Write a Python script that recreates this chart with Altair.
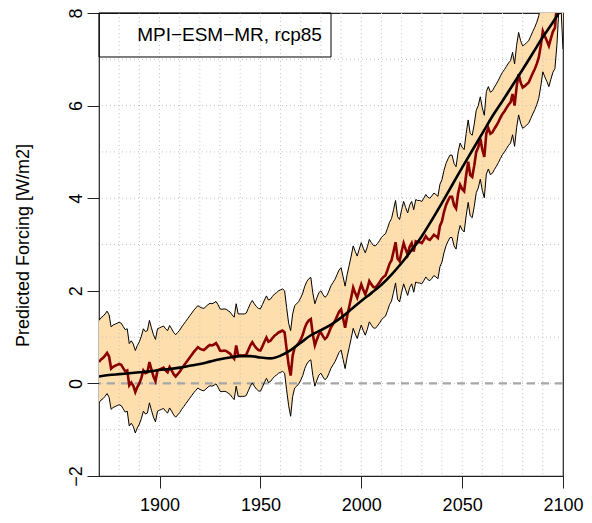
import altair as alt
import pandas as pd

# ---------------- data ----------------
years = list(range(1870, 2101))

red = [
    0.46, 0.52, 0.55, 0.60, 0.66, 0.58, 0.32, 0.36, 0.38, 0.40,
    0.42, 0.40, 0.33, 0.26, 0.28, -0.04, 0.02, -0.05, -0.19, -0.08,
    0.00, 0.12, 0.28, 0.22, 0.24, 0.46, 0.30, 0.15, 0.05, 0.28,
    0.30, 0.32, 0.34, 0.28, 0.24, 0.35, 0.28, 0.20, 0.15, 0.20,
    0.25, 0.32, 0.38, 0.44, 0.50, 0.56, 0.62, 0.68, 0.73, 0.78,
    0.75, 0.73, 0.72, 0.76, 0.80, 0.83, 0.82, 0.84, 0.87, 0.80,
    0.71, 0.70, 0.71, 0.70, 0.67, 0.64, 0.58, 0.53, 0.82, 0.60,
    0.60, 0.60, 0.60, 0.62, 0.72, 0.82, 0.89, 0.82, 0.76, 0.72,
    0.71, 0.80, 0.90, 0.99, 0.90, 0.92, 0.98, 1.03, 1.06, 1.10,
    1.12, 1.14, 1.10, 0.74, 0.40, 0.17, 0.60, 0.78, 0.82, 0.87,
    0.95, 1.05, 1.20, 1.30, 1.36, 1.39, 1.05, 0.82, 0.95, 1.06,
    1.10, 1.02, 0.96, 1.00, 1.10, 1.21, 1.28, 1.35, 1.45, 1.55,
    1.60, 1.40, 1.20, 1.45, 1.65, 1.85, 2.07, 1.95, 1.85, 2.00,
    2.14, 2.02, 1.92, 2.05, 2.21, 2.14, 2.08, 2.07, 2.12, 2.18,
    2.25, 2.30, 2.33, 2.45, 2.58, 2.66, 2.85, 3.05, 2.70, 2.64,
    2.85, 3.03, 2.90, 2.78, 2.95, 3.03, 2.85, 3.07, 3.05, 3.05,
    3.03, 3.10, 3.18, 3.12, 3.10, 3.15, 3.21, 3.18, 3.14, 3.40,
    3.50, 3.70, 3.85, 3.95, 4.03, 4.03, 3.85, 3.78, 4.10, 4.29,
    4.20, 4.15, 4.50, 4.79, 4.50, 4.46, 4.70, 5.00, 5.10, 5.29,
    5.05, 4.89, 5.40, 5.51, 5.39, 5.42, 5.50, 5.57, 5.65, 5.74,
    5.82, 5.88, 5.95, 6.02, 6.07, 6.25, 6.00, 6.40, 6.68, 6.50,
    6.39, 6.42, 6.46, 6.50, 6.60, 6.70, 6.79, 6.90, 7.04, 7.30,
    7.61, 7.50, 7.40, 7.29, 7.45, 7.60, 7.68, 8.20, 9.00, 9.00,
    8.10,
]

upper = [
    1.36, 1.42, 1.45, 1.50, 1.56, 1.48, 1.22, 1.26, 1.28, 1.30,
    1.32, 1.30, 1.23, 1.16, 1.18, 0.86, 0.92, 0.85, 0.71, 0.82,
    0.90, 1.02, 1.18, 1.12, 1.14, 1.36, 1.20, 1.05, 0.95, 1.18,
    1.20, 1.22, 1.24, 1.18, 1.14, 1.25, 1.18, 1.10, 1.05, 1.10,
    1.15, 1.22, 1.28, 1.34, 1.40, 1.46, 1.52, 1.58, 1.63, 1.68,
    1.65, 1.63, 1.62, 1.66, 1.70, 1.73, 1.72, 1.74, 1.77, 1.70,
    1.61, 1.60, 1.61, 1.60, 1.57, 1.54, 1.48, 1.43, 1.72, 1.50,
    1.50, 1.50, 1.50, 1.52, 1.62, 1.72, 1.79, 1.72, 1.66, 1.62,
    1.61, 1.70, 1.80, 1.89, 1.80, 1.82, 1.88, 1.93, 1.96, 2.00,
    2.02, 2.04, 2.00, 1.64, 1.30, 1.14, 1.50, 1.68, 1.72, 1.77,
    1.85, 1.95, 2.10, 2.20, 2.26, 2.29, 1.95, 1.72, 1.85, 1.96,
    2.00, 1.92, 1.86, 1.90, 2.00, 2.11, 2.18, 2.25, 2.35, 2.45,
    2.50, 2.30, 2.10, 2.35, 2.55, 2.75, 2.97, 2.85, 2.75, 2.90,
    3.04, 2.92, 2.82, 2.95, 3.11, 3.04, 2.98, 2.97, 3.02, 3.08,
    3.15, 3.20, 3.23, 3.35, 3.48, 3.56, 3.75, 3.95, 3.60, 3.54,
    3.75, 3.93, 3.80, 3.68, 3.85, 3.93, 3.75, 3.97, 3.95, 3.95,
    3.93, 4.00, 4.08, 4.02, 4.00, 4.05, 4.11, 4.08, 4.04, 4.30,
    4.40, 4.60, 4.75, 4.85, 4.93, 4.93, 4.75, 4.68, 5.00, 5.19,
    5.10, 5.05, 5.40, 5.69, 5.40, 5.36, 5.60, 5.90, 6.00, 6.19,
    5.95, 5.79, 6.30, 6.41, 6.29, 6.32, 6.40, 6.47, 6.55, 6.64,
    6.72, 6.78, 6.85, 6.92, 6.97, 7.15, 6.90, 7.30, 7.58, 7.40,
    7.29, 7.32, 7.36, 7.40, 7.50, 7.60, 7.69, 7.80, 7.94, 8.20,
    8.51, 8.40, 8.30, 8.19, 8.35, 8.50, 8.58, 9.10, 9.90, 9.90,
    9.00,
]

lower = [
    -0.42, -0.36, -0.33, -0.28, -0.22, -0.30, -0.56, -0.52, -0.50, -0.48,
    -0.46, -0.48, -0.55, -0.62, -0.60, -0.92, -0.86, -0.93, -1.07, -0.96,
    -0.88, -0.76, -0.60, -0.66, -0.64, -0.42, -0.58, -0.73, -0.83, -0.60,
    -0.58, -0.56, -0.54, -0.60, -0.64, -0.53, -0.60, -0.68, -0.73, -0.68,
    -0.63, -0.56, -0.50, -0.44, -0.38, -0.32, -0.26, -0.20, -0.15, -0.10,
    -0.13, -0.15, -0.16, -0.12, -0.08, -0.05, -0.06, -0.04, -0.01, -0.08,
    -0.17, -0.18, -0.17, -0.18, -0.21, -0.24, -0.30, -0.35, -0.06, -0.28,
    -0.28, -0.28, -0.28, -0.26, -0.16, -0.06, 0.01, -0.06, -0.12, -0.16,
    -0.17, -0.08, 0.02, 0.11, 0.02, 0.04, 0.10, 0.15, 0.18, 0.22,
    0.24, 0.26, 0.22, -0.14, -0.48, -0.71, -0.28, -0.10, -0.06, -0.01,
    0.07, 0.17, 0.32, 0.42, 0.48, 0.51, 0.17, -0.06, 0.07, 0.18,
    0.22, 0.14, 0.08, 0.12, 0.22, 0.33, 0.40, 0.47, 0.57, 0.67,
    0.72, 0.52, 0.32, 0.57, 0.77, 0.97, 1.19, 1.07, 0.97, 1.12,
    1.26, 1.14, 1.04, 1.17, 1.33, 1.26, 1.20, 1.19, 1.24, 1.30,
    1.37, 1.42, 1.45, 1.57, 1.70, 1.78, 1.97, 2.17, 1.82, 1.76,
    1.97, 2.15, 2.02, 1.90, 2.07, 2.15, 1.97, 2.19, 2.17, 2.17,
    2.15, 2.22, 2.30, 2.24, 2.22, 2.27, 2.33, 2.30, 2.26, 2.52,
    2.62, 2.82, 2.97, 3.07, 3.15, 3.15, 2.97, 2.90, 3.22, 3.41,
    3.32, 3.27, 3.62, 3.91, 3.62, 3.58, 3.82, 4.12, 4.22, 4.41,
    4.17, 4.01, 4.52, 4.63, 4.51, 4.54, 4.62, 4.69, 4.77, 4.86,
    4.94, 5.00, 5.07, 5.14, 5.19, 5.37, 5.12, 5.52, 5.80, 5.62,
    5.51, 5.54, 5.58, 5.62, 5.72, 5.82, 5.91, 6.02, 6.16, 6.42,
    6.73, 6.62, 6.52, 6.41, 6.57, 6.72, 6.80, 7.32, 8.12, 8.12,
    7.22,
]

mean_years = list(range(1870, 2101, 5))
mean_vals = [
    0.15, 0.18, 0.20, 0.22, 0.24, 0.26, 0.29, 0.31, 0.34, 0.38,
    0.42, 0.47, 0.52, 0.56, 0.59, 0.59, 0.56, 0.54, 0.60, 0.72,
    0.88, 1.04, 1.15, 1.27, 1.42, 1.60, 1.78, 1.95, 2.13, 2.35,
    2.60, 2.88, 3.18, 3.53, 3.90, 4.28, 4.66, 5.03, 5.40, 5.77,
    6.10, 6.44, 6.78, 7.13, 7.48, 7.80, 8.15,
]

x_ticks = [1900, 1950, 2000, 2050, 2100]
y_ticks = [-2, 0, 2, 4, 6, 8]
grid_x = [1880, 1890, 1900, 1910, 1920, 1930, 1940, 1950, 1960, 1970, 1980,
          1990, 2000, 2010, 2020, 2030, 2040, 2050, 2060, 2070, 2080, 2090]
grid_y = [-1, 0, 1, 2, 3, 4, 5, 6, 7]
zero_line = [0]
legend_label = "MPI\u2212ESM\u2212MR, rcp85"
legend_x = [1870, 1985]
legend_y = [7.05, 8.0]
legend_text_pos = [1980.5, 7.52]
y_title = "Predicted Forcing [W/m2]"

# ---------------- tables ----------------
df = pd.DataFrame({"year": years, "red": red, "upper": upper, "lower": lower})
df_mean = pd.DataFrame({"year": mean_years, "v": mean_vals})
df_gx = pd.DataFrame({"year": grid_x})
df_gy = pd.DataFrame({"v": grid_y})
df_zero = pd.DataFrame({"v": zero_line})
df_leg = pd.DataFrame({"x1": [legend_x[0]], "x2": [legend_x[1]],
                       "y1": [legend_y[0]], "y2": [legend_y[1]]})
df_txt = pd.DataFrame({"x": [legend_text_pos[0]], "y": [legend_text_pos[1]],
                       "t": [legend_label]})

FONT = "Liberation Sans"
xscale = alt.Scale(domain=[1870, 2100], nice=False, zero=False)
yscale = alt.Scale(domain=[-2, 8], nice=False, zero=False)

xaxis = alt.Axis(values=x_ticks, title=None, grid=False, domain=False,
                 tickSize=12, tickColor="#222", tickWidth=1,
                 labelFont=FONT, labelFontSize=18, labelColor="black",
                 labelPadding=26, labelBaseline="bottom",
                 labelFlush=False, labelOverlap=False, format="d")
yaxis = alt.Axis(values=y_ticks, title=y_title, grid=False, domain=False,
                 tickSize=12, tickColor="#222", tickWidth=1,
                 labelFont=FONT, labelFontSize=18, labelColor="black",
                 labelAngle=-90, labelAlign="center", labelBaseline="alphabetic",
                 labelPadding=6, labelFlush=False, labelOverlap=False,
                 titleFont=FONT, titleFontSize=18, titleFontWeight="normal",
                 titleColor="black", titleAngle=-90, titleAlign="center",
                 titleBaseline="alphabetic", titleX=-71, titleY=232)


def X(field):
    return alt.X(field, type="quantitative", scale=xscale, axis=xaxis)


def Y(field):
    return alt.Y(field, type="quantitative", scale=yscale, axis=yaxis)


band = alt.Chart(df).mark_area(color="#FFDEAD", clip=True).encode(
    x=X("year"), y=Y("lower"), y2="upper")
up_line = alt.Chart(df).mark_line(color="black", strokeWidth=1, clip=True).encode(
    x=X("year"), y=Y("upper"))
lo_line = alt.Chart(df).mark_line(color="black", strokeWidth=1, clip=True).encode(
    x=X("year"), y=Y("lower"))
gx = alt.Chart(df_gx).mark_rule(color="#C4C4C4", strokeWidth=1, strokeDash=[1, 3]).encode(
    x=X("year"))
gy = alt.Chart(df_gy).mark_rule(color="#C4C4C4", strokeWidth=1, strokeDash=[1, 3]).encode(
    y=Y("v"))
zero = alt.Chart(df_zero).mark_rule(color="#A6A6A6", strokeWidth=2.2, strokeDash=[8, 6]).encode(
    y=Y("v"))
red_line = alt.Chart(df).mark_line(color="#8B0000", strokeWidth=2.6, clip=True).encode(
    x=X("year"), y=Y("red"))
mean_line = alt.Chart(df_mean).mark_line(color="black", strokeWidth=2.6, clip=True,
                                         interpolate="monotone").encode(
    x=X("year"), y=Y("v"))
leg_box = alt.Chart(df_leg).mark_rect(fillOpacity=0, stroke="black", strokeWidth=1).encode(
    x=X("x1"), x2="x2", y=Y("y1"), y2="y2")
leg_txt = alt.Chart(df_txt).mark_text(align="right", baseline="middle", font=FONT,
                                      fontSize=19, color="black").encode(
    x=X("x"), y=Y("y"), text="t:N")

chart = alt.layer(
    band, gx, gy, zero, up_line, lo_line, red_line, mean_line, leg_box, leg_txt
).properties(
    width=464, height=463,
    autosize=alt.AutoSizeParams(type="none"),
    padding={"left": 91, "top": 5, "right": 21, "bottom": 38},
    background="white",
).configure_view(stroke="#222", strokeWidth=1.2)

chart.save("out.html", embed_options={"renderer": "svg", "actions": False})
